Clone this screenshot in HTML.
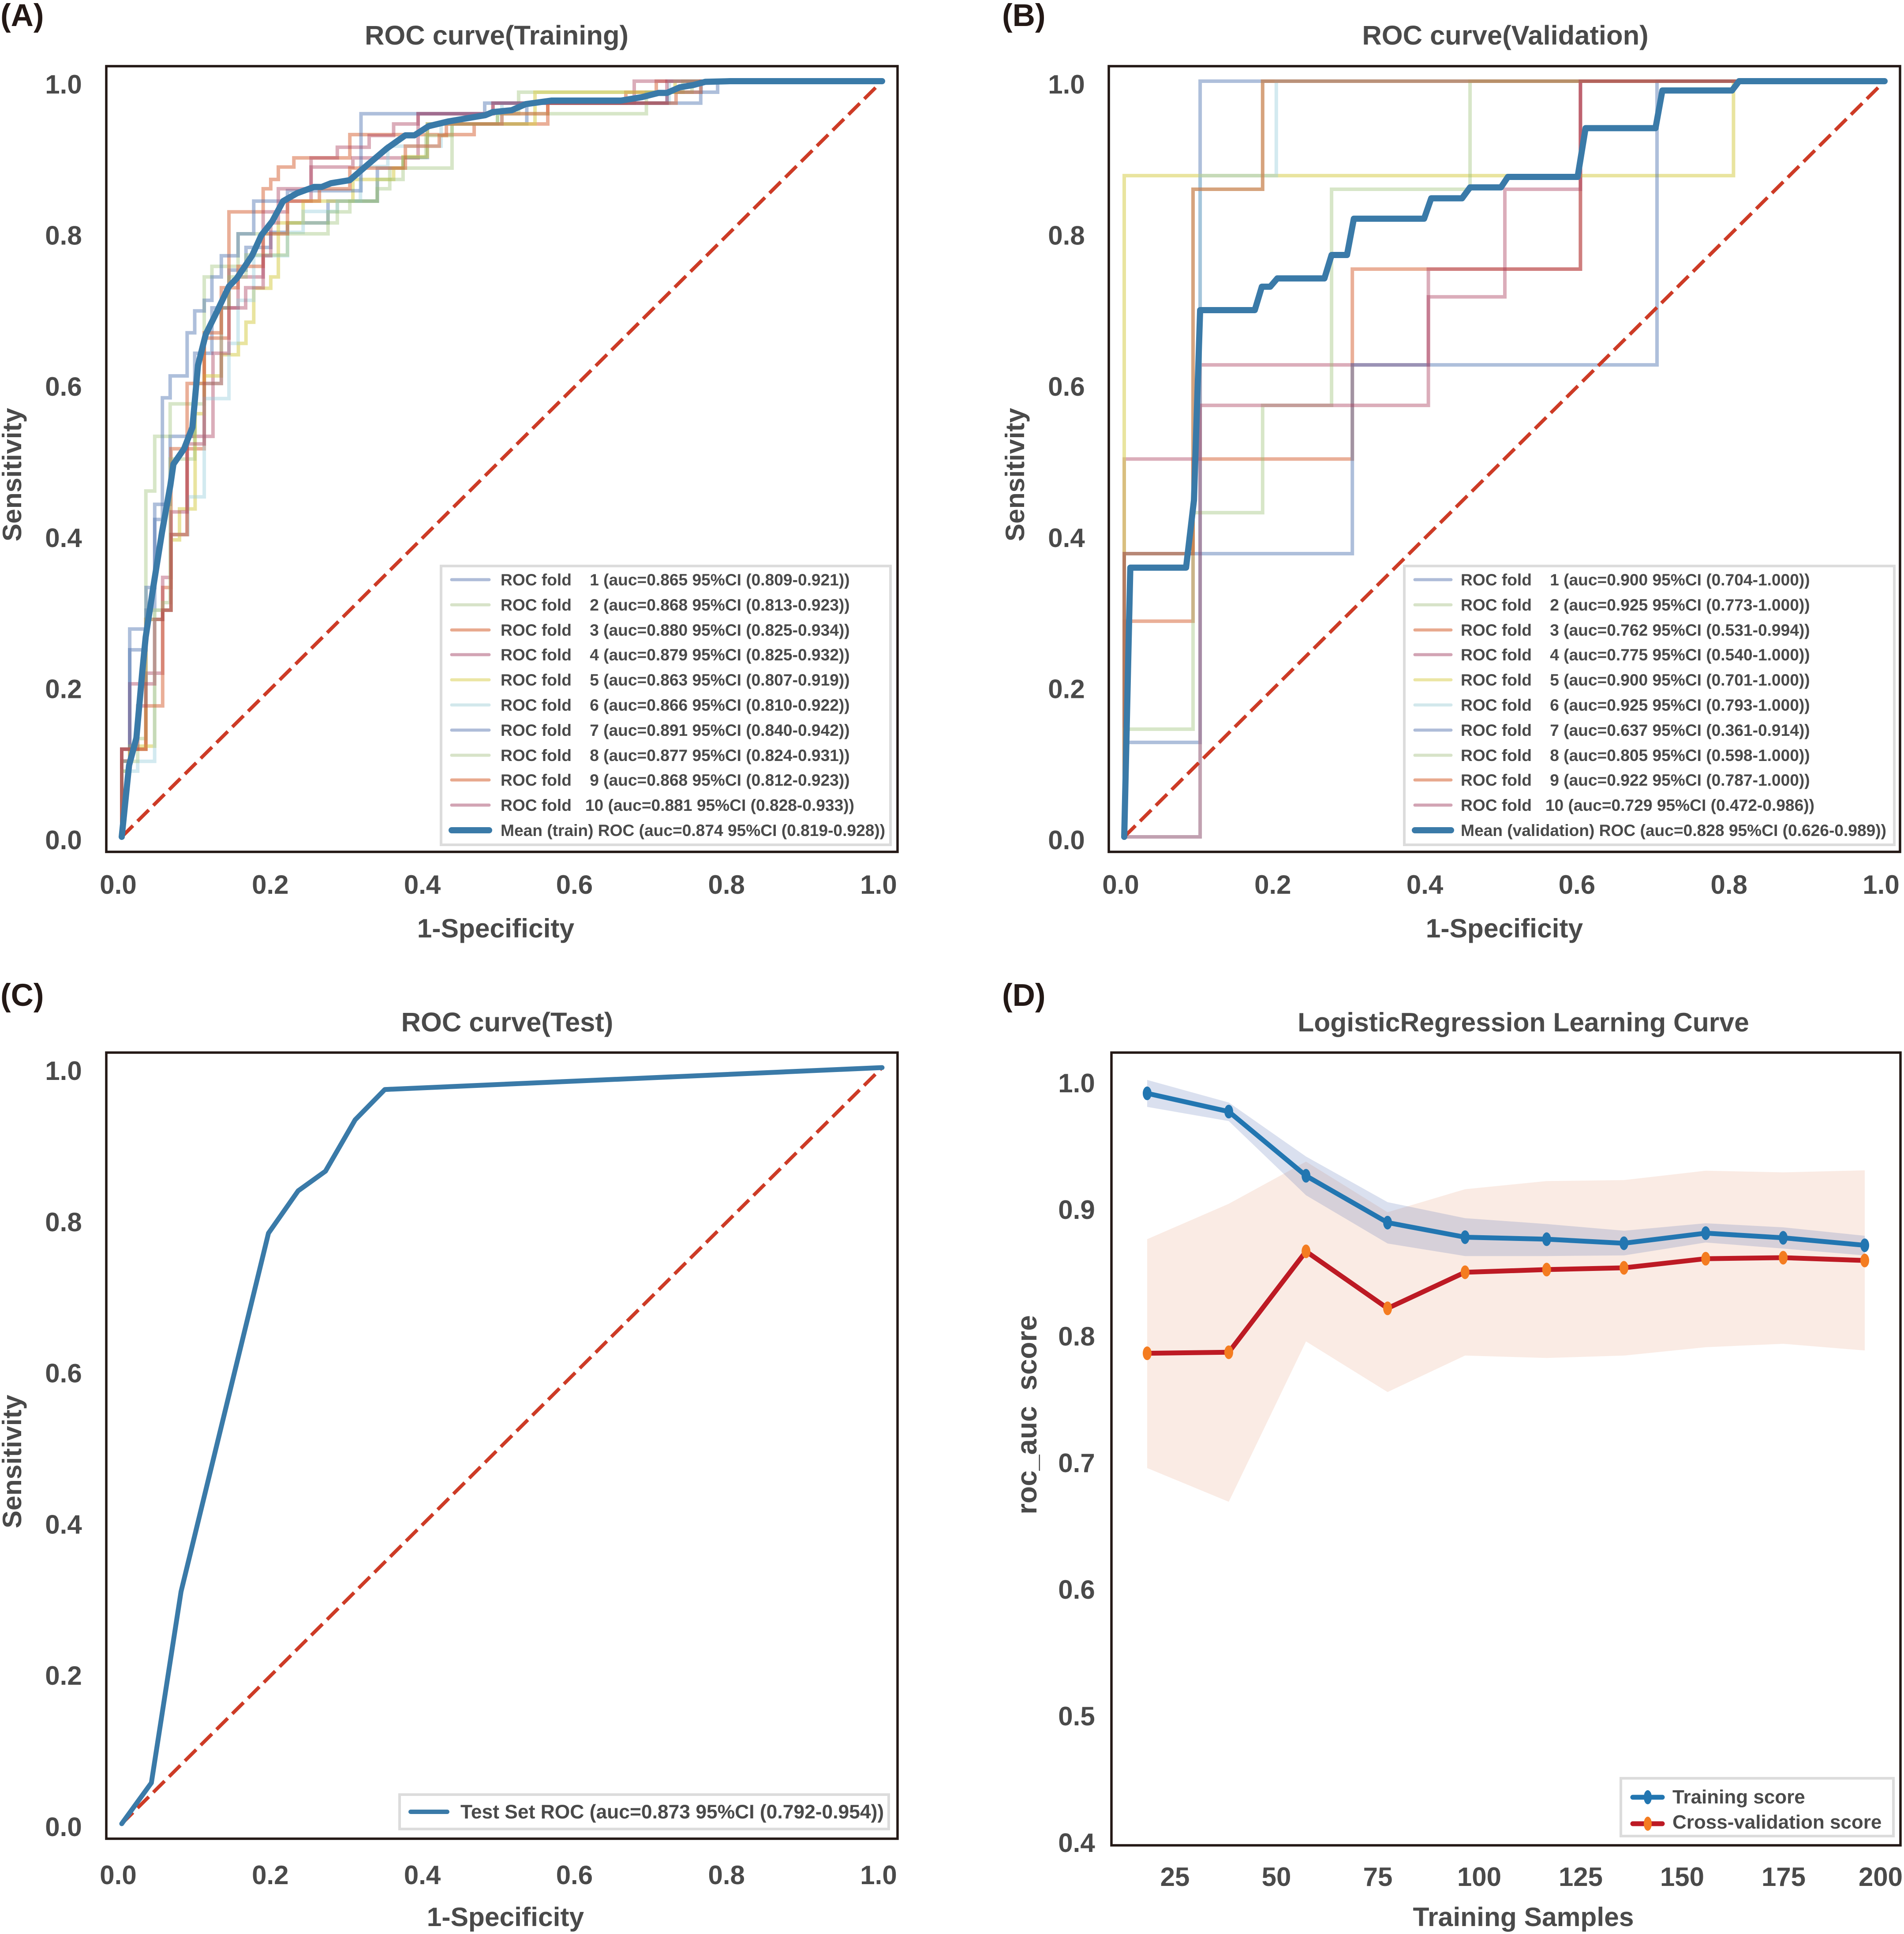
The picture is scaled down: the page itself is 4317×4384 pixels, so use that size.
<!DOCTYPE html>
<html lang="en">
<head>
<meta charset="utf-8">
<title>ROC and learning curves</title>
<style>
html,body{margin:0;padding:0;background:#fff;}
svg{display:block;}
text{font-family:"Liberation Sans",Arial,sans-serif;font-weight:bold;fill:#4a4a4a;white-space:pre;}
.panel-tag{font-size:71px;fill:#231815;}
.title{font-size:61.5px;}
.axis{font-size:60.5px;}
.leg{font-size:37.15px;}
.leg2{font-size:44.4px;}
.frame{fill:none;stroke:#231815;stroke-width:5.5;}
.lbox{fill:#fff;stroke:#dcdcdc;stroke-width:6;}
</style>
</head>
<body>
<svg id="fig" xmlns="http://www.w3.org/2000/svg" width="4317" height="4384" viewBox="0 0 4317 4384">
<rect width="4317" height="4384" fill="#fff"/>
<text class="panel-tag" x="1" y="59">(A)</text>
<text class="panel-tag" x="2272" y="59">(B)</text>
<text class="panel-tag" x="1" y="2280">(C)</text>
<text class="panel-tag" x="2272" y="2280">(D)</text>
<text class="title" x="1126" y="101" text-anchor="middle">ROC curve(Training)</text>
<text class="title" x="3413" y="101" text-anchor="middle">ROC curve(Validation)</text>
<text class="title" x="1150" y="2338" text-anchor="middle">ROC curve(Test)</text>
<text class="title" style="font-size:60.6px" x="3454" y="2338" text-anchor="middle">LogisticRegression Learning Curve</text>
<text class="axis" x="1124" y="2125" text-anchor="middle">1-Specificity</text>
<text class="axis" x="3411" y="2125" text-anchor="middle">1-Specificity</text>
<text class="axis" x="1146" y="4366" text-anchor="middle">1-Specificity</text>
<text class="axis" x="3454" y="4366" text-anchor="middle">Training Samples</text>
<text class="axis" transform="translate(48,1076) rotate(-90)" text-anchor="middle">Sensitivity</text>
<text class="axis" transform="translate(2322,1076) rotate(-90)" text-anchor="middle">Sensitivity</text>
<text class="axis" transform="translate(48,3313) rotate(-90)" text-anchor="middle">Sensitivity</text>
<text class="axis" style="font-size:64px" transform="translate(2350,3207) rotate(-90)" text-anchor="middle">roc_auc  score</text>
<g id="plots"></g>
<rect class="frame" x="241" y="150" width="1794" height="1781"/>
<rect class="frame" x="2514" y="150" width="1794" height="1781"/>
<rect class="frame" x="241" y="2386" width="1794" height="1782"/>
<rect class="frame" x="2520" y="2386" width="1789" height="1797"/>

<g>
<rect class="lbox" x="1000" y="1283" width="1019" height="632"/>
<g stroke-width="7" stroke-linecap="round">
<line x1="1024" x2="1109" y1="1314" y2="1314" stroke="#aebcd8"/>
<line x1="1024" x2="1109" y1="1371" y2="1371" stroke="#d7e3c8"/>
<line x1="1024" x2="1109" y1="1428" y2="1428" stroke="#e8a98e"/>
<line x1="1024" x2="1109" y1="1484" y2="1484" stroke="#d2a4b4"/>
<line x1="1024" x2="1109" y1="1541" y2="1541" stroke="#ebe6a4"/>
<line x1="1024" x2="1109" y1="1598" y2="1598" stroke="#d2e8ec"/>
<line x1="1024" x2="1109" y1="1655" y2="1655" stroke="#aebcd8"/>
<line x1="1024" x2="1109" y1="1712" y2="1712" stroke="#d7e3c8"/>
<line x1="1024" x2="1109" y1="1768" y2="1768" stroke="#e8a98e"/>
<line x1="1024" x2="1109" y1="1825" y2="1825" stroke="#d2a4b4"/>
<line x1="1024" x2="1109" y1="1882" y2="1882" stroke="#3a7aa8" stroke-width="14"/>
</g>
<text class="leg" x="1135" y="1327">ROC fold    1 (auc=0.865 95%CI (0.809-0.921))</text>
<text class="leg" x="1135" y="1384">ROC fold    2 (auc=0.868 95%CI (0.813-0.923))</text>
<text class="leg" x="1135" y="1441">ROC fold    3 (auc=0.880 95%CI (0.825-0.934))</text>
<text class="leg" x="1135" y="1497">ROC fold    4 (auc=0.879 95%CI (0.825-0.932))</text>
<text class="leg" x="1135" y="1554">ROC fold    5 (auc=0.863 95%CI (0.807-0.919))</text>
<text class="leg" x="1135" y="1611">ROC fold    6 (auc=0.866 95%CI (0.810-0.922))</text>
<text class="leg" x="1135" y="1668">ROC fold    7 (auc=0.891 95%CI (0.840-0.942))</text>
<text class="leg" x="1135" y="1725">ROC fold    8 (auc=0.877 95%CI (0.824-0.931))</text>
<text class="leg" x="1135" y="1781">ROC fold    9 (auc=0.868 95%CI (0.812-0.923))</text>
<text class="leg" x="1135" y="1838">ROC fold   10 (auc=0.881 95%CI (0.828-0.933))</text>
<text class="leg" x="1135" y="1895">Mean (train) ROC (auc=0.874 95%CI (0.819-0.928))</text>
</g>

<g>
<rect class="lbox" x="3184" y="1283" width="1111" height="632"/>
<g stroke-width="7" stroke-linecap="round">
<line x1="3208" x2="3290" y1="1314" y2="1314" stroke="#aebcd8"/>
<line x1="3208" x2="3290" y1="1371" y2="1371" stroke="#d7e3c8"/>
<line x1="3208" x2="3290" y1="1428" y2="1428" stroke="#e8a98e"/>
<line x1="3208" x2="3290" y1="1484" y2="1484" stroke="#d2a4b4"/>
<line x1="3208" x2="3290" y1="1541" y2="1541" stroke="#ebe6a4"/>
<line x1="3208" x2="3290" y1="1598" y2="1598" stroke="#d2e8ec"/>
<line x1="3208" x2="3290" y1="1655" y2="1655" stroke="#aebcd8"/>
<line x1="3208" x2="3290" y1="1712" y2="1712" stroke="#d7e3c8"/>
<line x1="3208" x2="3290" y1="1768" y2="1768" stroke="#e8a98e"/>
<line x1="3208" x2="3290" y1="1825" y2="1825" stroke="#d2a4b4"/>
<line x1="3208" x2="3290" y1="1882" y2="1882" stroke="#3a7aa8" stroke-width="14"/>
</g>
<text class="leg" x="3312" y="1327">ROC fold    1 (auc=0.900 95%CI (0.704-1.000))</text>
<text class="leg" x="3312" y="1384">ROC fold    2 (auc=0.925 95%CI (0.773-1.000))</text>
<text class="leg" x="3312" y="1441">ROC fold    3 (auc=0.762 95%CI (0.531-0.994))</text>
<text class="leg" x="3312" y="1497">ROC fold    4 (auc=0.775 95%CI (0.540-1.000))</text>
<text class="leg" x="3312" y="1554">ROC fold    5 (auc=0.900 95%CI (0.701-1.000))</text>
<text class="leg" x="3312" y="1611">ROC fold    6 (auc=0.925 95%CI (0.793-1.000))</text>
<text class="leg" x="3312" y="1668">ROC fold    7 (auc=0.637 95%CI (0.361-0.914))</text>
<text class="leg" x="3312" y="1725">ROC fold    8 (auc=0.805 95%CI (0.598-1.000))</text>
<text class="leg" x="3312" y="1781">ROC fold    9 (auc=0.922 95%CI (0.787-1.000))</text>
<text class="leg" x="3312" y="1838">ROC fold   10 (auc=0.729 95%CI (0.472-0.986))</text>
<text class="leg" x="3312" y="1895">Mean (validation) ROC (auc=0.828 95%CI (0.626-0.989))</text>
</g>

<g>
<rect class="lbox" x="906" y="4068" width="1109" height="78"/>
<line x1="931" x2="1014" y1="4107" y2="4107" stroke="#3a7aa8" stroke-width="10" stroke-linecap="round"/>
<text class="leg2" x="1044" y="4122">Test Set ROC (auc=0.873 95%CI (0.792-0.954))</text>
</g>

<g>
<rect class="lbox" x="3675" y="4031" width="618" height="131"/>
<line x1="3702" x2="3769" y1="4074" y2="4074" stroke="#2276b1" stroke-width="11" stroke-linecap="round"/>
<ellipse cx="3736" cy="4074" rx="9" ry="16" fill="#2276b1"/>
<line x1="3702" x2="3769" y1="4134" y2="4134" stroke="#bd1a24" stroke-width="11" stroke-linecap="round"/>
<ellipse cx="3736" cy="4134" rx="9" ry="16" fill="#f47c20"/>
<text class="leg2" style="font-size:44px" x="3792" y="4088">Training score</text>
<text class="leg2" style="font-size:44px" x="3792" y="4145">Cross-validation score</text>
</g>
</svg>
<script>
/* ---------- tick labels ---------- */
const rocTicks = [0, 0.2, 0.4, 0.6, 0.8, 1.0];
const rocTickLabels = ["0.0", "0.2", "0.4", "0.6", "0.8", "1.0"];
const lcXTicks = [25, 50, 75, 100, 125, 150, 175, 200];
const lcXTickLabels = ["25", "50", "75", "100", "125", "150", "175", "200"];
const lcYTicks = [0.4, 0.5, 0.6, 0.7, 0.8, 0.9, 1.0];
const lcYTickLabels = ["0.4", "0.5", "0.6", "0.7", "0.8", "0.9", "1.0"];

/* ---------- panel A: training folds (step curves) ---------- */
const trainFold1X = [0,.0105,.032,.0434,.0637,.096,.1186,.141,.1634,.196,.218,.2713,.3362,.37,.402,.5327,.7175,.762];
const trainFold1Y = [.10,.2475,.30,.44,.53,.64,.70,.75,.78,.80,.8125,.8413,.885,.899,.9434,.971,.9854,1];
const trainFold2X = [0,.0105,.0317,.0434,.0637,.1085,.1186,.153,.218,.2835,.336,.3525,.4344,.4942,.522,.75];
const trainFold2Y = [.087,.116,.4577,.53,.573,.741,.755,.798,.8125,.8413,.8576,.885,.9434,.957,.9854,1];
const trainFold3X = [0,.0105,.0317,.0538,.0648,.1085,.141,.186,.196,.206,.2264,.3,.4635,.5603,.663,.703];
const trainFold3Y = [.116,.116,.2878,.33,.5136,.66,.827,.8576,.87,.8864,.8985,.9293,.9434,.971,.9854,1];
const trainFold4X = [0,.0105,.032,.0538,.0648,.086,.12,.131,.153,.186,.218,.249,.304,.3898,.4882,.674];
const trainFold4Y = [.1006,.2025,.2166,.3433,.40,.53,.64,.70,.741,.827,.8413,.8864,.8985,.957,.971,1];
const trainFold5X = [0,.0105,.0433,.0648,.076,.0965,.1085,.131,.1534,.1634,.1736,.196,.206,.2386,.304,.3576,.37,.402,.5435,.7277];
const trainFold5Y = [.087,.12,.30,.393,.434,.56,.61,.638,.653,.681,.726,.741,.8125,.8413,.87,.885,.90,.9434,.9854,1];
const trainFold6X = [0,.0105,.021,.0433,.0648,.087,.1085,.141,.153,.1736,.218,.2386,.2835,.314,.35,.42,.50,.72];
const trainFold6Y = [.087,.087,.10,.30,.40,.45,.58,.653,.71,.769,.80,.8276,.8413,.887,.914,.9434,.971,1];
const trainFold7X = [0,.0105,.032,.0434,.0535,.0637,.086,.096,.1085,.1186,.131,.153,.1736,.218,.3147,.4774,.7615,.7837];
const trainFold7Y = [.116,.275,.33,.42,.581,.61,.667,.696,.71,.741,.769,.798,.8413,.855,.957,.971,.9854,1];
const trainFold8X = [0,.021,.0317,.0538,.0637,.096,.131,.141,.1634,.218,.2713,.3,.336,.37,.40,.4344,.4942,.69,.738];
const trainFold8Y = [.10,.13,.2878,.31,.50,.60,.70,.741,.77,.798,.827,.8413,.87,.899,.928,.9434,.957,.9854,1];
const trainFold9X = [0,.0105,.0317,.0538,.0648,.086,.1085,.131,.153,.186,.218,.26,.3,.373,.4176,.427,.50,.5603,.729,.7615];
const trainFold9Y = [.116,.116,.1733,.30,.40,.60,.667,.7266,.755,.798,.8413,.8576,.885,.914,.928,.9434,.957,.971,.9854,1];
const trainFold10X = [0,.021,.0317,.0433,.0538,.0648,.086,.1085,.131,.141,.163,.186,.196,.206,.249,.2835,.3254,.3576,.3898,.4882,.717];
const trainFold10Y = [.116,.1733,.2025,.2878,.30,.43,.52,.60,.64,.70,.7266,.769,.8125,.8576,.8985,.9126,.928,.9434,.957,.971,1];
const trainMeanX = [0,.0096,.0193,.027,.0315,.0423,.053,.064,.068,.082,.093,.1003,.1105,.1247,.141,.1512,.1715,.1837,.198,.2122,.2305,.2528,.263,.2753,.2998,.324,.3486,.373,.385,.4035,.43,.478,.488,.5128,.5312,.565,.6566,.6845,.706,.717,.7337,.752,.7674,.80,1];
const trainMeanY = [0,.0946,.131,.218,.2644,.3357,.4034,.4653,.4932,.5136,.542,.624,.665,.694,.7285,.739,.7694,.7963,.8146,.8412,.8517,.86,.86,.865,.869,.89,.911,.9284,.9284,.9404,.9468,.955,.9591,.9616,.9696,.9743,.9743,.979,.9845,.9845,.9918,.995,.9991,1,1];

/* ---------- panel B: validation folds (step curves) ---------- */
const valFold1X = [0,.0998];
const valFold1Y = [.125,1];
const valFold2X = [0,.0905,.182];
const valFold2Y = [.3748,.857,1];
const valFold3X = [0,.0905,.30,.60];
const valFold3Y = [.2854,.50,.7513,1];
const valFold4X = [0,.0998,.40,.60];
const valFold4Y = [.50,.6246,.7513,1];
const valFold5X = [0,.8013];
const valFold5Y = [.875,1];
const valFold6X = [0,.0998,.20];
const valFold6Y = [0,.875,1];
const valFold7X = [0,.30,.7007];
const valFold7Y = [.3748,.6246,1];
const valFold8X = [0,.0905,.182,.2727,.4548];
const valFold8Y = [.1425,.429,.571,.857,1];
const valFold9X = [0,.0905,.182];
const valFold9Y = [.3748,.857,1];
const valFold10X = [0,.0998,.40,.5006,.60];
const valFold10Y = [0,.571,.7146,.857,1];
const valMeanX = [0,.008,.0813,.0917,.0998,.1717,.181,.192,.2013,.2633,.2727,.293,.302,.3944,.4037,.4443,.4548,.4954,.5046,.5963,.6067,.6987,.7077,.7993,.8086,1];
const valMeanY = [0,.3563,.3563,.4454,.697,.697,.728,.728,.739,.739,.77,.77,.818,.818,.845,.845,.8595,.8595,.8733,.8733,.9378,.9378,.9877,.9877,1,1];

/* ---------- panel C: test ROC ---------- */
const testX = [0,.039,.078,.193,.232,.268,.307,.346,1];
const testY = [0,.054,.307,.781,.837,.863,.931,.971,1];

/* ---------- panel D: learning curve ---------- */
const lcSamples = [18.15,38.26,57.3,77.4,96.5,116.6,135.65,155.8,174.9,195];
const lcTrainMean = [.9894,.9750,.9243,.8873,.8758,.8742,.8710,.8790,.8753,.8694];
const lcTrainUpper = [1.0000,.9822,.9395,.9035,.8908,.8862,.8809,.8868,.8836,.8769];
const lcTrainLower = [.9787,.9675,.9089,.8708,.8609,.8609,.8614,.8716,.8668,.8614];
const lcCvMean = [.7841,.7849,.8646,.8196,.8481,.8502,.8516,.8588,.8596,.8574];
const lcCvUpper = [.8742,.9022,.9355,.8955,.9137,.9201,.9209,.9283,.9270,.9286];
const lcCvLower = [.6935,.6668,.7935,.7535,.7823,.7804,.7823,.7889,.7916,.7863];

/* ---------- axis functions ---------- */
const axisA = { x: f => 276 + 1724 * f, y: t => 1897 - 1713 * t };
const axisB = { x: f => 2549 + 1724 * f, y: t => 1897 - 1713 * t };
const axisC = { x: f => 276 + 1724 * f, y: t => 4134 - 1714 * t };
const axisD = { x: v => 2664 + (v - 25) * 9.2, y: v => 2448 + (1 - v) * 2870 };

const NS = "http://www.w3.org/2000/svg";
const root = document.getElementById("plots");
const foldStyles = [
  ["rgb(76,114,176)", .45], ["rgb(150,190,110)", .38], ["rgb(214,95,50)", .5],
  ["rgb(170,60,90)", .42], ["rgb(215,205,80)", .55], ["rgb(150,205,220)", .42],
  ["rgb(76,114,176)", .45], ["rgb(150,190,110)", .38], ["rgb(214,95,50)", .5],
  ["rgb(170,60,90)", .42]
];

function mk(tag, attrs) {
  const el = document.createElementNS(NS, tag);
  for (const k in attrs) el.setAttribute(k, attrs[k]);
  root.appendChild(el);
  return el;
}
function polyD(ax, xs, ys) {
  return xs.map((v, i) => (i ? "L" : "M") + ax.x(v).toFixed(1) + " " + ax.y(ys[i]).toFixed(1)).join("");
}
function stepD(ax, xs, ys) {
  let d = "M" + ax.x(xs[0]).toFixed(1) + " " + ax.y(0).toFixed(1);
  for (let i = 0; i < xs.length; i++) {
    d += "V" + ax.y(ys[i]).toFixed(1);
    d += "H" + ax.x(i + 1 < xs.length ? xs[i + 1] : 1).toFixed(1);
  }
  return d;
}
function drawFold(ax, xs, ys, idx) {
  const el = mk("path", { d: stepD(ax, xs, ys), fill: "none", stroke: foldStyles[idx][0], "stroke-opacity": foldStyles[idx][1], "stroke-width": 8, "stroke-linejoin": "miter" });
  
  
}
function drawDiagonal(ax) {
  const el = mk("line", { x1: ax.x(0), y1: ax.y(0), x2: ax.x(1), y2: ax.y(1), stroke: "#cd3b26", "stroke-width": 8, "stroke-dasharray": "36 14.5" });
  
  
}
function drawMean(ax, xs, ys, w) {
  const el = mk("path", { d: polyD(ax, xs, ys), fill: "none", stroke: "#3a7aa8", "stroke-width": w, "stroke-linejoin": "round", "stroke-linecap": "round" });
  
  
}
function tickText(x, y, s) {
  const el = mk("text", { x: x, y: y, "text-anchor": "middle", "font-size": 60 });
  el.textContent = s;
  
  
}
function rocTickMarks(ax, yLabelX, xLabelBase) {
  rocTicks.forEach((v, i) => {
    tickText(ax.x(v) - 8, xLabelBase, rocTickLabels[i]);
    tickText(yLabelX, ax.y(v) + 28, rocTickLabels[i]);
  });
}

const foldsA = [[trainFold1X,trainFold1Y],[trainFold2X,trainFold2Y],[trainFold3X,trainFold3Y],[trainFold4X,trainFold4Y],[trainFold5X,trainFold5Y],[trainFold6X,trainFold6Y],[trainFold7X,trainFold7Y],[trainFold8X,trainFold8Y],[trainFold9X,trainFold9Y],[trainFold10X,trainFold10Y]];
const foldsB = [[valFold1X,valFold1Y],[valFold2X,valFold2Y],[valFold3X,valFold3Y],[valFold4X,valFold4Y],[valFold5X,valFold5Y],[valFold6X,valFold6Y],[valFold7X,valFold7Y],[valFold8X,valFold8Y],[valFold9X,valFold9Y],[valFold10X,valFold10Y]];

foldsA.forEach((f, i) => drawFold(axisA, f[0], f[1], i));
drawDiagonal(axisA);
drawMean(axisA, trainMeanX, trainMeanY, 14);
rocTickMarks(axisA, 144, 2026);

foldsB.forEach((f, i) => drawFold(axisB, f[0], f[1], i));
drawDiagonal(axisB);
drawMean(axisB, valMeanX, valMeanY, 14);
rocTickMarks(axisB, 2418, 2026);

drawDiagonal(axisC);
drawMean(axisC, testX, testY, 11);
rocTickMarks(axisC, 144, 4271);

function band(up, lo, color, opacity) {
  const xs = lcSamples.concat(lcSamples.slice().reverse());
  const ys = up.concat(lo.slice().reverse());
  const el = mk("path", { d: polyD(axisD, xs, ys) + "Z", fill: color, "fill-opacity": opacity });
  
  
}
function lcLine(vals, lineColor, markerColor) {
  const el = mk("path", { d: polyD(axisD, lcSamples, vals), fill: "none", stroke: lineColor, "stroke-width": 11, "stroke-linejoin": "round" });
  
  
  vals.forEach((v, i) => {
    const m = mk("ellipse", { cx: axisD.x(lcSamples[i]), cy: axisD.y(v), rx: 10, ry: 15.5, fill: markerColor });
    
    
  });
}
band(lcCvUpper, lcCvLower, "rgb(228,150,110)", .19);
band(lcTrainUpper, lcTrainLower, "rgb(70,100,175)", .2);
lcLine(lcCvMean, "#bd1a24", "#f47c20");
lcLine(lcTrainMean, "#2276b1", "#2276b1");
lcXTicks.forEach((v, i) => tickText(Math.min(axisD.x(v), 4264), 4275, lcXTickLabels[i]));
lcYTicks.forEach((v, i) => tickText(2441, axisD.y(v) + 28, lcYTickLabels[i]));
</script>
</body>
</html>
